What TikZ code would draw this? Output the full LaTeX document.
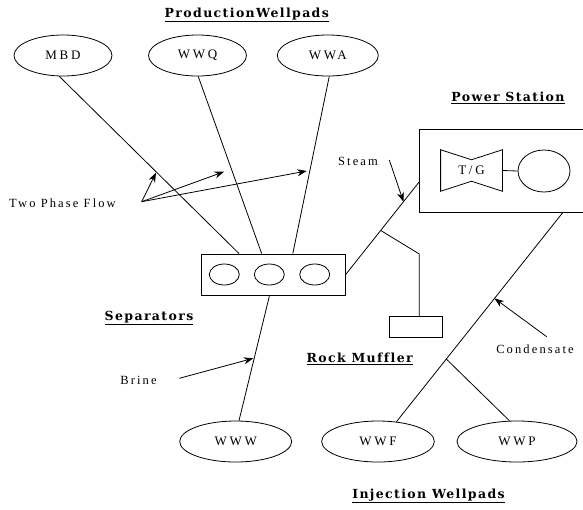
\documentclass[tikz,border=0pt]{standalone}
\usepackage{fontspec}
\setmainfont{Liberation Serif}
\newfontfamily\notefont[LetterSpace=17]{Liberation Serif}
\newfontfamily\padfont[LetterSpace=21]{Liberation Serif}
\newfontfamily\headfont[LetterSpace=11,Ligatures=NoCommon]{DejaVu Serif}
\usetikzlibrary{arrows.meta,calc,positioning,shapes.geometric}

\begin{document}
\begin{tikzpicture}[x=1pt,y=-1pt,line width=0.8pt,>={Stealth[length=9.5pt,width=7pt]},
  pad/.style={draw,ellipse,minimum width=98pt,minimum height=41pt,inner sep=0pt,font=\fontsize{13}{15}\padfont},
  drum/.style={draw,ellipse,minimum width=30pt,minimum height=21pt,inner sep=0pt},
  note/.style={inner sep=1pt,font=\fontsize{12.5}{14}\notefont},
  head/.style={inner sep=1pt,font=\fontsize{12.5}{14}\headfont\bfseries}]
  \useasboundingbox (0,0) rectangle (583,509);

  % production wellpads
  \node[head] (prodhead) at (246.8,15) {\underline{ProductionWellpads}};
  \node[pad] (mbd) at (63,55.5) {MBD};
  \node[pad] (wwq) at (197.5,55.5) {WWQ};
  \node[pad,minimum width=101pt] (wwa) at (327.8,55.5) {WWA};

  % separators
  \node[draw,minimum width=143.3pt,minimum height=41.7pt,inner sep=0pt] (sep) at (273.35,274.85) {};
  \node[drum] (drum1) at (224.3,274.5) {};
  \node[drum] (drum2) at (269.3,274.5) {};
  \node[drum] (drum3) at (314.7,274.5) {};
  \node[head] (sephead) at (149,318) {\underline{Separators}};
  \draw (mbd.260) -- ($(sep.north west)!0.262!(sep.north east)$);
  \draw (wwq.272) -- ($(sep.north west)!0.419!(sep.north east)$);
  \draw (wwa.274) -- ($(sep.north west)!0.635!(sep.north east)$);

  % power station
  \node[minimum width=163.7pt,minimum height=83pt,inner sep=0pt] (station) at (501.15,170.8) {};
  \draw (station.north east) -- (station.north west) -- (station.south west) -- (station.south east);
  \node[head] (stationhead) at (508,98) {\underline{Power Station}};
  \node[minimum width=61pt,minimum height=40.7pt,inner sep=0pt,font=\fontsize{13}{15}\padfont] (tg) at (471.5,170.5) {T/G};
  \draw (tg.north west) -- ($(tg.north)+(0,10)$) -- (tg.north east) -- (tg.south east)
    -- ($(tg.south)+(0,-10)$) -- (tg.south west) -- cycle;
  \node[draw,ellipse,minimum width=52pt,minimum height=42pt] (gen) at (544,171) {};
  \draw (tg.east) -- (gen.west);

  % steam and rock muffler
  \coordinate (steamin) at ($(station.west)+(0,11.5)$);
  \draw (sep.east) -- (steamin);
  \node[draw,minimum width=52.6pt,minimum height=20.6pt,inner sep=0pt] (muffler) at (416,327) {};
  \coordinate (tee) at ($(sep.east)!0.48!(steamin)$);
  \coordinate (bend) at (419.3,254);
  \draw (tee) -- (bend) -- (bend |- muffler.north);
  \node[head] (mufflerhead) at (359.7,359) {\underline{Rock Muffler}};
  \node[note] (steam) at (358,161) {Steam};
  \coordinate (steamtail) at (389.3,160);
  \draw[->] (steamtail) -- ($(sep.east)!0.79!(steamin)$);

  % two phase flow
  \node[note] (twophase) at (62.5,203) {Two Phase Flow};
  \coordinate (fork) at (141.7,201.7);
  \coordinate (tp1) at (156,172.7);
  \coordinate (tp2) at (224,171.7);
  \coordinate (tp3) at (306.7,171);
  \draw[->] (fork) -- (tp1);
  \draw[->] (fork) -- (tp2);
  \draw[->] (fork) -- (tp3);

  % injection wellpads
  \node[pad,minimum width=112pt] (www) at (235.7,441.5) {WWW};
  \node[pad,minimum width=112.7pt] (wwf) at (378,441.5) {WWF};
  \node[pad,minimum width=120pt] (wwp) at (517,441.5) {WWP};
  \node[head] (injhead) at (428.5,495.7) {\underline{Injection Wellpads}};
  \draw ($(sep.south)+(-4,0)$) -- (www.81);
  \coordinate (condout) at ($(station.south west)!0.874!(station.south east)$);
  \draw (condout) -- (wwf.47.6);
  \coordinate (tee2) at ($(condout)!0.70!(wwf.47.6)$);
  \draw (tee2) -- (wwp.110);

  % brine and condensate
  \node[note] (brine) at (138.5,380) {Brine};
  \coordinate (brinetail) at (179.3,378.3);
  \draw[->] (brinetail) -- (253.3,358.3);
  \node[note] (condensate) at (535,349) {Condensate};
  \coordinate (condtail) at (546.7,336.7);
  \draw[->] (condtail) -- ($(condout)!0.41!(wwf.47.6)$);
\end{tikzpicture}
\end{document}
